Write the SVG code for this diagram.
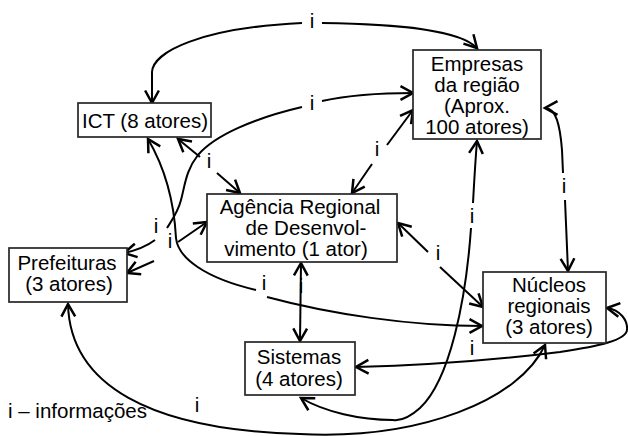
<svg xmlns="http://www.w3.org/2000/svg" width="628" height="436" viewBox="0 0 628 436">
<defs>
<style>
.box{fill:#fff;stroke:#262626;stroke-width:1.7}
.t{font-family:"Liberation Sans",Arial,sans-serif;font-size:20.5px;fill:#000;text-anchor:middle}
.lg{font-family:"Liberation Sans",Arial,sans-serif;font-size:20.5px;fill:#000}
.c{fill:none;stroke:#000;stroke-width:2}
.s{marker-start:url(#ah)}
.e{marker-end:url(#ah)}
</style>
<marker id="ah" markerUnits="userSpaceOnUse" markerWidth="20" markerHeight="20" refX="0" refY="0" viewBox="-12 -8 14 16" orient="auto-start-reverse" overflow="visible">
<path d="M-10,-5.5 L0,0 L-10,5.5" fill="none" stroke="#000" stroke-width="2"/>
</marker>
</defs>
<rect width="628" height="436" fill="#fff"/>
<g id="connectors">
<!-- ICT <-> Empresas (top) -->
<path class="c s" d="M152,103 L152,72 C153,52 200,28 302,23"/>
<path class="c e" d="M322,23 C400,24 460,30 477,48"/>
<!-- Prefeituras <-> Empresas -->
<path class="c s" d="M413,93 C380,93 345,96 322,101"/>
<path class="c" d="M302,107 C255,118 215,135 198,155 C186,170 185,185 181,200 C178,212 172,220 167,228"/>
<path class="c e" d="M155,240 Q143,249 124,253"/>
<!-- ICT <-> Nucleos -->
<path class="c s" d="M148,139 C165,168 174,200 176,238 C178,258 205,278 256,290"/>
<path class="c e" d="M267,297 C330,314 410,326 482,326"/>
<!-- Prefeituras <-> Agencia -->
<path class="c s" d="M127,273 L154,261"/>
<path class="c e" d="M178,242 L207,222"/>
<!-- ICT <-> Agencia -->
<path class="c s" d="M178,139 L200,157"/>
<path class="c e" d="M217,173 L240,193"/>
<!-- Agencia <-> Empresas -->
<path class="c s" d="M352,193 L372,164"/>
<path class="c e" d="M387,145 L413,110"/>
<!-- Agencia <-> Nucleos -->
<path class="c s" d="M398,223 L428,252"/>
<path class="c e" d="M440,267 L483,307"/>
<!-- Agencia <-> Sistemas -->
<path class="c s e" d="M301,263 L300,341"/>
<!-- Empresas <-> Sistemas -->
<path class="c s" d="M477,141 C475,165 474,185 473,203"/>
<path class="c e" d="M471,228 C466,300 450,380 420,408 C410,417 400,421 393,420 C360,420 325,412 301,398"/>
<!-- Empresas <-> Nucleos -->
<path class="c s" d="M545,108 C556,108 560,125 562,150 L563,173"/>
<path class="c e" d="M565,200 L568,271"/>
<!-- Nucleos <-> Sistemas -->
<path class="c s e" d="M607,308 C620,310 628,320 627,330 C626,340 600,346 560,352 C480,362 400,366 356,367"/>
<!-- Prefeituras <-> Nucleos -->
<path class="c s e" d="M68,304 C70,385 150,430 300,434 C420,440 520,400 545,345"/>
</g>
<g id="labels">
<text class="t" x="312" y="28">i</text>
<text class="t" x="312" y="110">i</text>
<text class="t" x="209" y="168">i</text>
<text class="t" x="377" y="156">i</text>
<text class="t" x="156" y="233">i</text>
<text class="t" x="170" y="248">i</text>
<text class="t" x="264" y="290">i</text>
<text class="t" x="197" y="412">i</text>
<text class="t" x="301" y="293">i</text>
<text class="t" x="438" y="260">i</text>
<text class="t" x="472" y="355">i</text>
<text class="t" x="472" y="223">i</text>
<text class="t" x="564" y="193">i</text>
</g>
<g id="ict">
<rect class="box" x="78" y="103" width="133" height="34"/>
<text class="t" x="145" y="128">ICT (8 atores)</text>
</g>
<g id="empresas">
<rect class="box" x="413" y="50" width="128" height="89"/>
<text class="t" x="477" y="71">Empresas</text>
<text class="t" x="477" y="92">da região</text>
<text class="t" x="477" y="113">(Aprox.</text>
<text class="t" x="477" y="134">100 atores)</text>
</g>
<g id="agencia">
<rect class="box" x="207" y="194" width="190" height="68"/>
<text class="t" x="300" y="214">Agência Regional</text>
<text class="t" x="306" y="235">de Desenvol-</text>
<text class="t" x="296" y="256">vimento (1 ator)</text>
</g>
<g id="prefeituras">
<rect class="box" x="9" y="248" width="118" height="54"/>
<text class="t" x="67" y="270">Prefeituras</text>
<text class="t" x="69" y="291">(3 atores)</text>
</g>
<g id="nucleos">
<rect class="box" x="483" y="272" width="123" height="71"/>
<text class="t" x="549" y="292">Núcleos</text>
<text class="t" x="549" y="313">regionais</text>
<text class="t" x="549" y="334">(3 atores)</text>
</g>
<g id="sistemas">
<rect class="box" x="245" y="342" width="110" height="53"/>
<text class="t" x="299" y="364">Sistemas</text>
<text class="t" x="299" y="386">(4 atores)</text>
</g>
<g id="legend">
<text class="lg" x="8" y="418">i – informações</text>
</g>
</svg>
